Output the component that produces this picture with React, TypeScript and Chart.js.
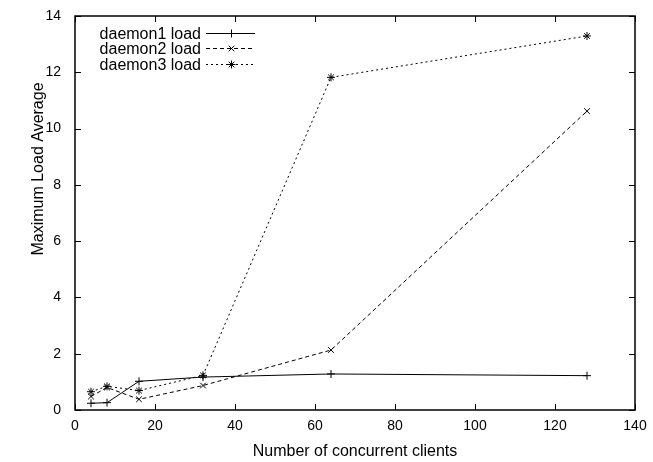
import React, { useEffect, useRef } from "react";
import { Chart, registerables } from "chart.js";

Chart.register(...registerables);

const clients = [4, 8, 16, 32, 64, 128];
const daemon1Load = [0.24, 0.26, 1.02, 1.17, 1.28, 1.22];
const daemon2Load = [0.48, 0.8, 0.38, 0.87, 2.13, 10.62];
const daemon3Load = [0.65, 0.84, 0.69, 1.23, 11.82, 13.29];
const seriesNames = ["daemon1 load", "daemon2 load", "daemon3 load"];
const xTitle = "Number of concurrent clients";
const yTitle = "Maximum Load Average";

const FONT = "'Liberation Sans', Arial, Helvetica, sans-serif";

function drawMarker(ctx: CanvasRenderingContext2D, style: string, r: number, x: number, y: number) {
  ctx.beginPath();
  const plus = () => {
    ctx.moveTo(x - r, y);
    ctx.lineTo(x + r, y);
    ctx.moveTo(x, y - r);
    ctx.lineTo(x, y + r);
  };
  const cross = () => {
    const d = r * Math.SQRT1_2;
    ctx.moveTo(x - d, y - d);
    ctx.lineTo(x + d, y + d);
    ctx.moveTo(x - d, y + d);
    ctx.lineTo(x + d, y - d);
  };
  if (style === "cross") plus();
  else if (style === "crossRot") cross();
  else {
    plus();
    cross();
  }
  ctx.stroke();
}

const framePlugin = {
  id: "gnuplotFrame",
  afterDraw(chart: any) {
    const { ctx, chartArea: a, scales } = chart;
    const xs = scales.x;
    const ys = scales.y;
    ctx.save();
    ctx.strokeStyle = "#000";
    ctx.lineWidth = 1.5;
    ctx.setLineDash([]);
    ctx.strokeRect(a.left, a.top, a.right - a.left, a.bottom - a.top);
    ctx.lineWidth = 1;
    const tl = 6;
    xs.ticks.forEach((t: any) => {
      const px = Math.round(xs.getPixelForValue(t.value)) + 0.5;
      ctx.beginPath();
      ctx.moveTo(px, a.bottom);
      ctx.lineTo(px, a.bottom - tl);
      ctx.moveTo(px, a.top);
      ctx.lineTo(px, a.top + tl);
      ctx.stroke();
    });
    ys.ticks.forEach((t: any) => {
      const py = Math.round(ys.getPixelForValue(t.value)) + 0.5;
      ctx.beginPath();
      ctx.moveTo(a.left, py);
      ctx.lineTo(a.left + tl, py);
      ctx.moveTo(a.right, py);
      ctx.lineTo(a.right - tl, py);
      ctx.stroke();
    });

    // axis titles
    ctx.fillStyle = "#000";
    ctx.font = `16px ${FONT}`;
    ctx.textAlign = "center";
    ctx.textBaseline = "alphabetic";
    ctx.fillText(xTitle, (a.left + a.right) / 2, 456);
    ctx.save();
    ctx.translate(43, 169);
    ctx.rotate(-Math.PI / 2);
    ctx.fillText(yTitle, 0, 0);
    ctx.restore();

    // legend
    const textRight = 201;
    const lineStart = 206;
    const lineEnd = 255;
    chart.data.datasets.forEach((ds: any, i: number) => {
      const y = Math.round(a.top + 16.5 + i * 15.5) + 0.5;
      ctx.font = `16px ${FONT}`;
      ctx.textAlign = "right";
      ctx.textBaseline = "alphabetic";
      ctx.fillStyle = "#000";
      ctx.fillText(ds.label, textRight, y + 5);
      ctx.strokeStyle = "#000";
      ctx.lineWidth = 1;
      ctx.setLineDash(ds.borderDash || []);
      ctx.beginPath();
      ctx.moveTo(lineStart, y);
      ctx.lineTo(lineEnd, y);
      ctx.stroke();
      ctx.setLineDash([]);
      drawMarker(ctx, ds.pointStyle, ds.pointRadius, Math.round((lineStart + lineEnd) / 2) + 0.5, y);
    });
    ctx.restore();
  },
};

function makeSeries(values: number[]) {
  return clients.map((x, i) => ({ x, y: values[i] }));
}

export default function App() {
  const ref = useRef<HTMLCanvasElement | null>(null);
  useEffect(() => {
    if (!ref.current) return;
    const common = {
      borderColor: "#000",
      backgroundColor: "#000",
      pointBorderColor: "#000",
      borderWidth: 1,
      pointRadius: 4,
      pointBorderWidth: 1,
      fill: false,
      tension: 0,
    };
    const chart = new Chart(ref.current, {
      type: "line",
      data: {
        datasets: [
          { ...common, label: seriesNames[0], data: makeSeries(daemon1Load), pointStyle: "cross", borderDash: [] },
          { ...common, label: seriesNames[1], data: makeSeries(daemon2Load), pointStyle: "crossRot", borderDash: [4, 3] },
          { ...common, label: seriesNames[2], data: makeSeries(daemon3Load), pointStyle: "star", borderDash: [2, 3] },
        ],
      },
      options: {
        animation: false,
        responsive: false,
        devicePixelRatio: 1,
        layout: { autoPadding: false, padding: { top: 16, right: 18, left: 0, bottom: 0 } },
        plugins: { legend: { display: false }, tooltip: { enabled: false }, title: { display: false } },
        scales: {
          x: {
            type: "linear",
            min: 0,
            max: 140,
            ticks: { stepSize: 20, color: "#000", font: { family: FONT, size: 14 }, padding: 8, maxRotation: 0 },
            grid: { display: false, drawTicks: false, tickLength: 0 },
            border: { display: false },
            afterFit: (s: any) => {
              s.height = 52;
              s.paddingLeft = 0;
              s.paddingRight = 0;
            },
          },
          y: {
            type: "linear",
            min: 0,
            max: 14,
            ticks: { stepSize: 2, color: "#000", font: { family: FONT, size: 14 }, padding: 14 },
            grid: { display: false, drawTicks: false, tickLength: 0 },
            border: { display: false },
            afterFit: (s: any) => {
              s.width = 75;
              s.paddingTop = 0;
              s.paddingBottom = 0;
            },
          },
        },
      },
      plugins: [framePlugin],
    } as any);
    return () => chart.destroy();
  }, []);
  return (
    <div style={{ position: "fixed", left: 0, top: 0, width: 653, height: 462, background: "#fff" }}>
      <canvas ref={ref} width={653} height={462} style={{ width: 653, height: 462 }} />
    </div>
  );
}
